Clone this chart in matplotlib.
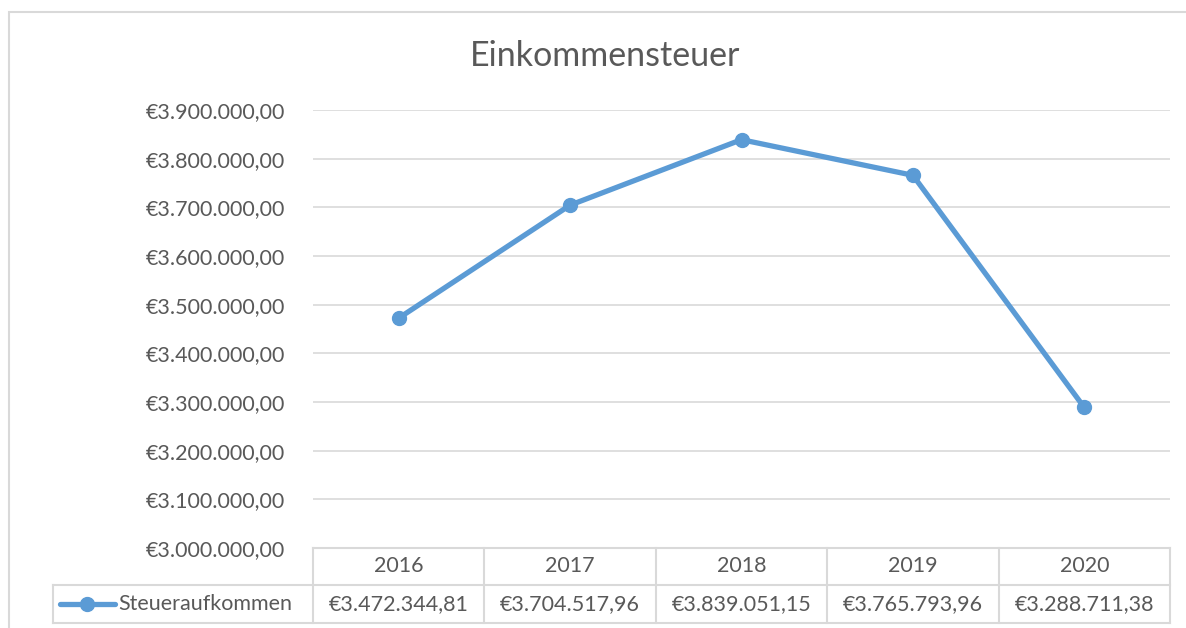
import matplotlib.pyplot as plt
from matplotlib.patches import Rectangle
from matplotlib.ticker import FuncFormatter

years = ['2016', '2017', '2018', '2019', '2020']
steuer = [3472344.81, 3704517.96, 3839051.15, 3765793.96, 3288711.38]
series_name = 'Steueraufkommen'
title = 'Einkommensteuer'

plt.rcParams['font.family'] = ['Lato', 'DejaVu Sans']
text_color = '#595959'
grid_color = '#D9D9D9'
line_color = '#5B9BD5'
fs = 15.5

W, H = 1186, 628
fig = plt.figure(figsize=(W / 100, H / 100), dpi=100)

# chart frame (cut off at right and bottom like in the screenshot)
fig.patches.append(Rectangle((9 / W, -0.1), 1.2, 1 - 12 / H + 0.1, transform=fig.transFigure,
                             fill=False, edgecolor=grid_color, linewidth=1.5))

ax = fig.add_axes([313 / W, 1 - 548 / H, (1170 - 313) / W, (548 - 110) / H])


def euro(v, pos=None):
    s = f'{v:,.2f}'
    s = s.replace(',', 'X').replace('.', ',').replace('X', '.')
    return '€' + s


x = list(range(len(years)))
ax.plot(x, steuer, color=line_color, linewidth=3.8, marker='o', markersize=10,
        solid_capstyle='round', zorder=3, clip_on=False)

ax.set_xlim(-0.5, len(years) - 0.5)
ax.set_ylim(3000000, 3900000)
ax.set_yticks(range(3000000, 3900001, 100000))
ax.yaxis.set_major_formatter(FuncFormatter(euro))
ax.tick_params(axis='y', length=0, pad=20, labelsize=fs, labelcolor=text_color)
ax.set_xticks([])
ax.grid(axis='y', color=grid_color, linewidth=1.2)
ax.set_axisbelow(True)
for side in ['top', 'right', 'left']:
    ax.spines[side].set_visible(False)
ax.spines['bottom'].set_color(grid_color)
ax.spines['bottom'].set_linewidth(1.5)

fig.text(605 / W, 1 - 56 / H, title, ha='center', va='center', fontsize=24.5, color=text_color)

# data table below the axis
tr = ax.get_xaxis_transform()
ax_h = 548 - 110
r1 = -(585 - 548) / ax_h
r2 = -(623 - 548) / ax_h
left = -0.5 - (313 - 53) / ((1170 - 313) / len(years))
tl = dict(color=grid_color, linewidth=1.5, transform=tr, clip_on=False)
for i in range(len(years) + 1):
    ax.plot([i - 0.5, i - 0.5], [0, r2], **tl)
ax.plot([left, left], [r1, r2], **tl)
ax.plot([left, len(years) - 0.5], [r1, r1], **tl)
ax.plot([left, len(years) - 0.5], [r2, r2], **tl)
for i, (yr, v) in enumerate(zip(years, steuer)):
    ax.text(i, r1 / 2, yr, transform=tr, ha='center', va='center', fontsize=fs, color=text_color)
    ax.text(i, (r1 + r2) / 2, euro(v), transform=tr, ha='center', va='center', fontsize=fs,
            color=text_color)

# legend key inside the table
ym = (r1 + r2) / 2
ax.plot([left + 0.04, left + 0.36], [ym, ym], color=line_color, linewidth=3.8, transform=tr,
        clip_on=False, solid_capstyle='round')
ax.plot([left + 0.2], [ym], marker='o', markersize=10, color=line_color, transform=tr, clip_on=False)
ax.text(left + 0.38, ym, series_name, transform=tr, ha='left', va='center', fontsize=fs,
        color=text_color)

fig.savefig('out.png', dpi=100)
